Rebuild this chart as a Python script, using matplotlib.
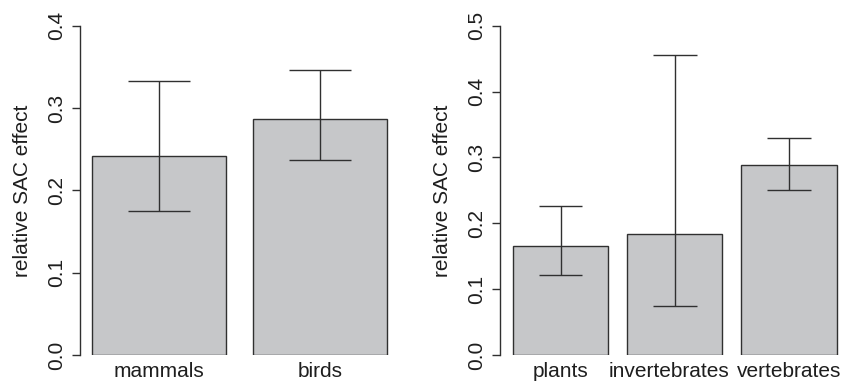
import matplotlib
matplotlib.use('Agg')
import matplotlib.pyplot as plt
import matplotlib.transforms as mtrans
import numpy as np

plt.rcParams['font.family'] = ['Liberation Sans', 'DejaVu Sans']

# left panel
taxa_left = ['mammals', 'birds']
effect_left = [0.242, 0.287]
upper_left = [0.333, 0.346]
lower_left = [0.175, 0.237]

# right panel
taxa_right = ['plants', 'invertebrates', 'vertebrates']
effect_right = [0.166, 0.184, 0.288]
upper_right = [0.226, 0.455, 0.329]
lower_right = [0.122, 0.074, 0.251]

yticks_left = [0.0, 0.1, 0.2, 0.3, 0.4]
yticks_right = [0.0, 0.1, 0.2, 0.3, 0.4, 0.5]

W, H = 853, 384
bar_fill = '#c6c7c9'
ink = '#303030'
txt = '#1e1e1e'


def draw_panel(ax, names, vals, hi, lo, yticks):
    n = len(names)
    # R barplot layout: width 1, space 0.2
    x = 0.2 + np.arange(n) * 1.2 + 0.5
    ax.bar(x, vals, width=1.0, color=bar_fill, edgecolor=ink, linewidth=1.0, zorder=2)
    ax.vlines(x, lo, hi, color=ink, linewidth=1.0, zorder=3)
    ax.hlines(hi, x - 0.23, x + 0.23, color=ink, linewidth=1.0, zorder=3)
    ax.hlines(lo, x - 0.23, x + 0.23, color=ink, linewidth=1.0, zorder=3)
    lo_x = 0.2
    hi_x = 0.2 + n * 1.2 - 0.2
    pad = (hi_x - lo_x) * 0.04
    ax.set_xlim(lo_x - pad, hi_x + pad)
    ax.set_ylim(0, yticks[-1])
    for s in ['top', 'right', 'bottom']:
        ax.spines[s].set_visible(False)
    ax.spines['left'].set_color(ink)
    ax.spines['left'].set_linewidth(1.0)
    ax.set_yticks(yticks)
    ax.set_yticklabels(['%.1f' % t for t in yticks], rotation=90, va='center', fontsize=15)
    ax.tick_params(axis='y', length=6, width=1.0, color=ink, pad=4, labelcolor=txt)
    ax.set_xticks(x)
    ax.set_xticklabels(names, fontsize=15, color=txt)
    ax.tick_params(axis='x', length=0, pad=5)
    ax.set_ylabel('relative SAC effect', fontsize=15, color=txt, labelpad=11)
    ax.patch.set_visible(False)


fig = plt.figure(figsize=(W / 100, H / 100), dpi=100)
y0 = (H - 355) / H
h = (355 - 25.7) / H
ax1 = fig.add_axes([80 / W, y0, (399 - 80) / W, h])
ax2 = fig.add_axes([500 / W, y0, (849.6 - 500) / W, h])

draw_panel(ax1, taxa_left, effect_left, upper_left, lower_left, yticks_left)
draw_panel(ax2, taxa_right, effect_right, upper_right, lower_right, yticks_right)

# the middle label sits a little left of its bar in the original
lab = ax2.get_xticklabels()[1]
lab.set_transform(lab.get_transform() + mtrans.ScaledTranslation(-6 / 100, 0, fig.dpi_scale_trans))

fig.savefig('out.png', dpi=100)
